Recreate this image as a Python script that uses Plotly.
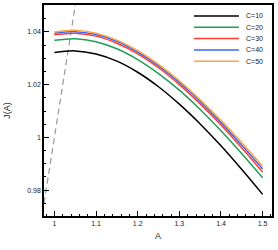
import plotly.graph_objects as go

A = [1.00, 1.05, 1.10, 1.15, 1.20, 1.25, 1.30, 1.35, 1.40, 1.45, 1.50]
J_C10 = [1.0322, 1.0328, 1.0316, 1.0289, 1.0247, 1.0192, 1.0126, 1.0051, 0.9968, 0.9878, 0.9784]
J_C20 = [1.0368, 1.0374, 1.0363, 1.0336, 1.0295, 1.0242, 1.0179, 1.0106, 1.0025, 0.9938, 0.9847]
J_C30 = [1.0389, 1.0395, 1.0384, 1.0357, 1.0317, 1.0264, 1.0200, 1.0127, 1.0047, 0.9960, 0.9869]
J_C40 = [1.0395, 1.0401, 1.0390, 1.0364, 1.0323, 1.0271, 1.0208, 1.0136, 1.0056, 0.9970, 0.9880]
J_C50 = [1.0400, 1.0406, 1.0395, 1.0369, 1.0329, 1.0277, 1.0215, 1.0143, 1.0065, 0.9980, 0.9891]
series_names = ["C=10", "C=20", "C=30", "C=40", "C=50"]
series_colors = ["#000000", "#1f9e5a", "#ff3d2e", "#3f66f5", "#ffa43a"]
diag_A = [0.96, 1.07]
x_ticks = [1.0, 1.1, 1.2, 1.3, 1.4, 1.5]
x_ticktext = ["1", "1.1", "1.2", "1.3", "1.4", "1.5"]
y_ticks = [0.98, 1.0, 1.02, 1.04]
y_ticktext = ["0.98", "1", "1.02", "1.04"]

fig = go.Figure()
fig.add_trace(go.Scatter(x=diag_A, y=diag_A, mode="lines", showlegend=False,
                         line=dict(color="#999999", width=1.2, dash="6px,4px")))
for name, col, ys in zip(series_names, series_colors, [J_C10, J_C20, J_C30, J_C40, J_C50]):
    fig.add_trace(go.Scatter(x=A, y=ys, mode="lines", name=name, showlegend=False,
                             line=dict(color=col, width=1.5, shape="spline")))

font = "Liberation Sans, Arial, sans-serif"

# compact legend (line samples + labels), placed in paper coordinates
leg_x0, leg_x1, leg_tx = 0.658, 0.855, 0.877
leg_y0, leg_step = 0.948, 0.0536
shapes = []
annotations = []
for i, (name, col) in enumerate(zip(series_names, series_colors)):
    yy = leg_y0 - i * leg_step
    shapes.append(dict(type="line", xref="paper", yref="paper", x0=leg_x0, x1=leg_x1,
                       y0=yy, y1=yy, line=dict(color=col, width=1.5)))
    annotations.append(dict(text=name, x=leg_tx, y=yy, xref="paper", yref="paper",
                            xanchor="left", yanchor="middle", showarrow=False,
                            font=dict(size=7, family=font, color="#222222")))
annotations.append(dict(text="A", x=0.5, y=0, xref="paper", yref="paper",
                        yanchor="middle", yshift=-20, showarrow=False,
                        font=dict(size=9, family=font, color="#222222")))

fig.update_layout(
    width=278, height=250,
    margin=dict(l=44, r=6, t=5, b=34),
    paper_bgcolor="white", plot_bgcolor="white",
    font=dict(family=font, size=7, color="#222222"),
    showlegend=False,
    shapes=shapes,
    annotations=annotations,
    xaxis=dict(range=[0.975, 1.5225], tickvals=x_ticks, ticktext=x_ticktext,
               ticks="inside", ticklen=5, tickwidth=1, tickcolor="black",
               showline=True, linecolor="black", linewidth=1.5, mirror=True,
               showgrid=False, zeroline=False, automargin=False,
               minor=dict(dtick=0.02, ticks="inside", ticklen=2.5, tickcolor="black", showgrid=False)),
    yaxis=dict(range=[0.9702, 1.0502], tickvals=y_ticks, ticktext=y_ticktext,
               ticks="inside", ticklen=5, tickwidth=1, tickcolor="black",
               showline=True, linecolor="black", linewidth=1.5, mirror=True,
               showgrid=False, zeroline=False, automargin=False,
               minor=dict(dtick=0.005, ticks="inside", ticklen=2.5, tickcolor="black", showgrid=False),
               title=dict(text="J(A)", font=dict(size=9, family=font))),
)
fig.write_html("out.html", post_script="document.body.style.margin='0';",
               config={"displayModeBar": False})
